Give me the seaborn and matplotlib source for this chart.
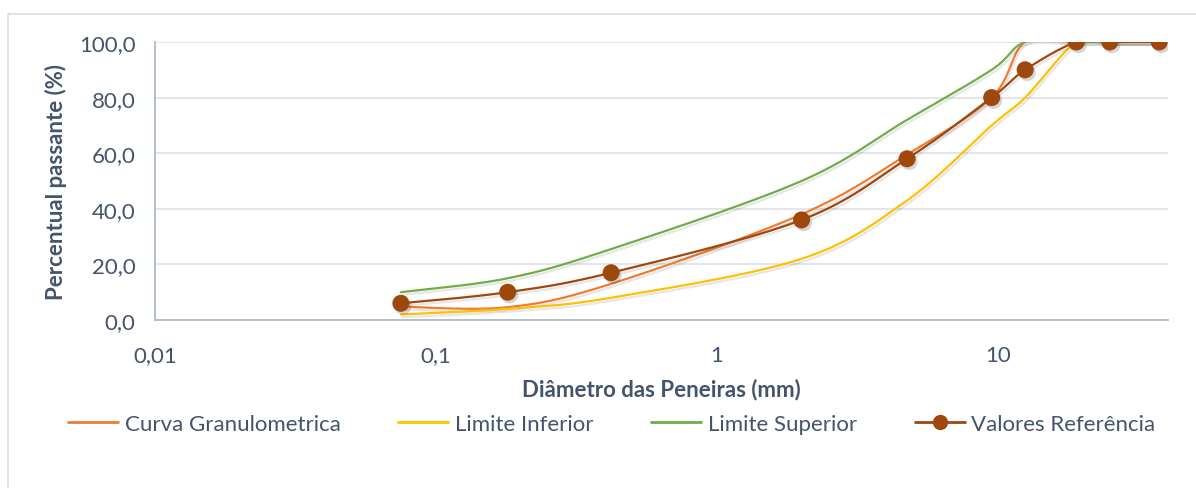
import numpy as np
import pandas as pd
import matplotlib
matplotlib.use("Agg")
import matplotlib.pyplot as plt
import matplotlib.patheffects as pe
from matplotlib.lines import Line2D
from matplotlib.patches import Rectangle
from matplotlib.ticker import FixedLocator, FuncFormatter, NullLocator
import seaborn as sns

# Sieve openings (mm) and percent passing for each series
sieves = [0.075, 0.18, 0.42, 2.0, 4.75, 9.5, 12.5, 19.0, 25.0, 37.5]
curva_granulometrica = [4.8, 4.6, 13.0, 38.0, 59.5, 80.0, 100.0, 100.0, 100.0, 100.0]
limite_inferior = [2.0, 4.0, 8.0, 22.0, 43.0, 70.0, 80.0, 100.0, 100.0, 100.0]
limite_superior = [10.0, 15.0, 25.5, 50.0, 72.0, 90.0, 100.0, 100.0, 100.0, 100.0]
valores_referencia = [6.0, 10.0, 17.0, 36.0, 58.0, 80.0, 90.0, 100.0, 100.0, 100.0]

series_names = ["Curva Granulometrica", "Limite Inferior", "Limite Superior", "Valores Referência"]
x_ticks = [0.01, 0.1, 1, 10]
x_tick_labels = ["0,01", "0,1", "1", "10"]
y_ticks = [0, 20, 40, 60, 80, 100]

colors = {
    "Curva Granulometrica": "#ED7D31",
    "Limite Inferior": "#FFC000",
    "Limite Superior": "#70AD47",
    "Valores Referência": "#9E480E",
}
text_color = "#44546A"
axis_color = "#ADB9CA"
grid_color = "#DDE2E8"


def smooth_curve(xs, ys, n=40, sx=281.0, sy=2.78):
    """Bezier smoothing through the points, computed in log-x display units."""
    u = np.log10(np.asarray(xs, float)) * sx
    v = np.asarray(ys, float) * sy
    pts = np.column_stack([u, v])
    ext = np.vstack([pts[0], pts, pts[-1]])
    out = []
    t = np.linspace(0, 1, n)[:, None]
    for i in range(len(pts) - 1):
        p0, p3 = ext[i + 1], ext[i + 2]
        c1 = p0 + (ext[i + 2] - ext[i]) / 6.0
        c2 = p3 - (ext[i + 3] - ext[i + 1]) / 6.0
        seg = ((1 - t) ** 3) * p0 + 3 * ((1 - t) ** 2) * t * c1 + 3 * (1 - t) * t ** 2 * c2 + t ** 3 * p3
        out.append(seg if i == 0 else seg[1:])
    arr = np.vstack(out)
    return 10 ** (arr[:, 0] / sx), arr[:, 1] / sy


sns.set_theme(style="white")
plt.rcParams["font.family"] = ["Lato", "DejaVu Sans"]

fig = plt.figure(figsize=(11.96, 4.89), dpi=100)
ax = fig.add_axes([155 / 1196, 1 - 321 / 489, (1168 - 155) / 1196, (321 - 43) / 489])

# chart frame
fig.patches.append(Rectangle((7.5 / 1196, -0.1), 1.2, (489 - 14.5) / 489 + 0.1,
                             transform=fig.transFigure, fill=False,
                             edgecolor="#D9DEE5", linewidth=1.2, zorder=0))

shadow = [pe.SimpleLineShadow(offset=(1.0, -2.0), alpha=0.13, shadow_color="#404040"), pe.Normal()]

series_values = [curva_granulometrica, limite_inferior, limite_superior, valores_referencia]
frames = []
for name, vals in zip(series_names, series_values):
    sx_, sy_ = smooth_curve(sieves, vals)
    frames.append(pd.DataFrame({"diametro": sx_, "passante": sy_, "serie": name}))
curves = pd.concat(frames, ignore_index=True)

for name in series_names:
    sub = curves[curves["serie"] == name]
    sns.lineplot(data=sub, x="diametro", y="passante", ax=ax, color=colors[name],
                 linewidth=1.6, sort=False, estimator=None, legend=False,
                 path_effects=shadow, zorder=3)

points = pd.DataFrame({"diametro": sieves, "passante": valores_referencia})
sns.scatterplot(data=points, x="diametro", y="passante", ax=ax, s=150,
                color=colors["Valores Referência"], edgecolor="none", legend=False, zorder=5,
                path_effects=[pe.SimplePatchShadow(offset=(1.5, -2), shadow_rgbFace="#404040",
                                                   alpha=0.22), pe.Normal()])

ax.set_xscale("log")
ax.set_xlim(0.01, 40.3)
ax.set_ylim(0, 100)
ax.xaxis.set_major_locator(FixedLocator(x_ticks))
ax.xaxis.set_minor_locator(NullLocator())
ax.xaxis.set_major_formatter(FuncFormatter(lambda v, p: x_tick_labels[x_ticks.index(v)] if v in x_ticks else ""))
ax.yaxis.set_major_locator(FixedLocator(y_ticks))
ax.yaxis.set_major_formatter(FuncFormatter(lambda v, p: f"{v:.1f}".replace(".", ",")))

ax.grid(axis="y", color=grid_color, linewidth=1.2, zorder=0)
ax.set_axisbelow(True)
for side in ["top", "right"]:
    ax.spines[side].set_visible(False)
for side in ["left", "bottom"]:
    ax.spines[side].set_color(axis_color)
    ax.spines[side].set_linewidth(1.3)
ax.tick_params(axis="both", which="major", direction="out", length=6, width=1.1,
               color=axis_color, labelcolor=text_color, labelsize=16)
ax.tick_params(axis="x", pad=12)
ax.tick_params(axis="y", pad=8)

ax.set_xlabel("Diâmetro das Peneiras (mm)", fontsize=16, fontweight="bold", color=text_color, labelpad=9)
ax.set_ylabel("Percentual passante (%)", fontsize=16, fontweight="bold", color=text_color)
ax.yaxis.set_label_coords((67 - 155) / (1168 - 155), 0.5)

handles = [
    Line2D([], [], color=colors["Curva Granulometrica"], linewidth=2),
    Line2D([], [], color=colors["Limite Inferior"], linewidth=2),
    Line2D([], [], color=colors["Limite Superior"], linewidth=2),
    Line2D([], [], color=colors["Valores Referência"], linewidth=2, marker="o",
           markersize=11, markeredgewidth=0),
]
leg = fig.legend(handles, series_names, loc="center left", bbox_to_anchor=(68 / 1196, 1 - 425 / 489),
                 ncol=4, frameon=False, fontsize=16, handlelength=2.25, handletextpad=0.3,
                 columnspacing=2.6, borderaxespad=0, borderpad=0)
for t in leg.get_texts():
    t.set_color(text_color)

fig.savefig("out.png", dpi=100, facecolor="white")
